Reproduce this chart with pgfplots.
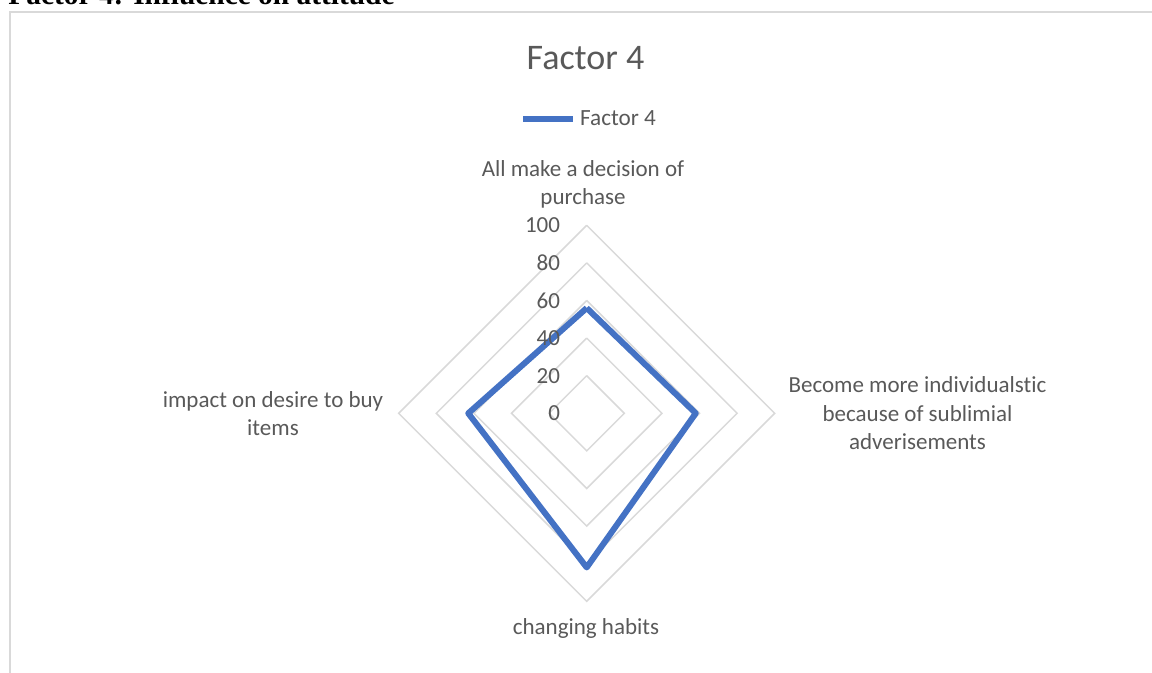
\documentclass[border=0pt]{standalone}
\usepackage{fontspec}
\setmainfont{Carlito}[Ligatures=NoCommon]
\newfontfamily\headfont{Liberation Serif}
\usepackage{pgfplots}
\pgfplotsset{compat=1.18}
\definecolor{txtgray}{HTML}{595959}
\definecolor{gridgray}{HTML}{D9D9D9}
\definecolor{serblue}{HTML}{4472C4}
% pixel -> pt helper (1 px = 0.5 pt, y measured from the top)
\newcommand{\px}[2]{({#1*0.5pt},{(673-#2)*0.5pt})}

\pgfplotstableread{
x y
0 56
58 0
0 -82
-63 0
0 56
}\factorfour

\begin{document}
\begin{tikzpicture}
\useasboundingbox \px{0}{673} rectangle \px{1152}{0};
\begin{scope}
\clip \px{0}{673} rectangle \px{1152}{0};
\node[anchor=base west, inner sep=0pt, font=\headfont\bfseries\fontsize{14.7}{16}\selectfont]
  at \px{8}{5} {Factor 4: Influence on attitude};
\draw[gridgray, line width=1pt] \px{10}{700} -- \px{10}{12} -- \px{1170}{12};
\end{scope}

\begin{axis}[
    x=0.94pt, y=0.94pt,
    xmin=-100, xmax=100, ymin=-100, ymax=100,
    hide axis,
    clip=false,
    anchor=origin,
    at={(293.35pt,129.85pt)},
    legend style={at={(0.509,1.282)}, anchor=center, draw=none, fill=none,
      font=\fontsize{11.6}{13}\selectfont, text=txtgray},
    legend image code/.code={\draw[#1] (0pt,0pt) -- (25pt,0pt);},
]
% diamond grid rings
\addplot[gridgray, line width=0.75pt, forget plot] coordinates {(0,20) (20,0) (0,-20) (-20,0) (0,20)};
\addplot[gridgray, line width=0.75pt, forget plot] coordinates {(0,40) (40,0) (0,-40) (-40,0) (0,40)};
\addplot[gridgray, line width=0.75pt, forget plot] coordinates {(0,60) (60,0) (0,-60) (-60,0) (0,60)};
\addplot[gridgray, line width=0.75pt, forget plot] coordinates {(0,80) (80,0) (0,-80) (-80,0) (0,80)};
\addplot[gridgray, line width=0.75pt, forget plot] coordinates {(0,100) (100,0) (0,-100) (-100,0) (0,100)};
% series
\addplot[serblue, line width=3pt, line join=round] table {\factorfour};
\addlegendentry{Factor 4}
% radial tick labels
\foreach \v in {0,20,40,60,80,100} {
  \edef\tmp{\noexpand\node[anchor=east, inner sep=0pt, text=txtgray, font=\noexpand\fontsize{11.5}{13}\noexpand\selectfont] at (axis cs:-14,\v) {\v};}
  \tmp
}
\end{axis}

\node[text=txtgray, font=\fontsize{18}{20}\selectfont] at \px{585.5}{58} {Factor 4};
\node[text=txtgray, align=center, font=\fontsize{11.5}{14.25}\selectfont] at \px{583}{184.5}
  {All make a decision of\\purchase};
\node[text=txtgray, align=center, font=\fontsize{11.5}{14.25}\selectfont] at \px{917.5}{413.5}
  {Become more individualstic\\because of sublimial\\adverisements};
\node[text=txtgray, align=center, font=\fontsize{11.5}{14.25}\selectfont] at \px{273}{413.5}
  {impact on desire to buy\\items};
\node[text=txtgray, align=center, font=\fontsize{11.5}{14.25}\selectfont] at \px{586}{628}
  {changing habits};
\end{tikzpicture}
\end{document}
